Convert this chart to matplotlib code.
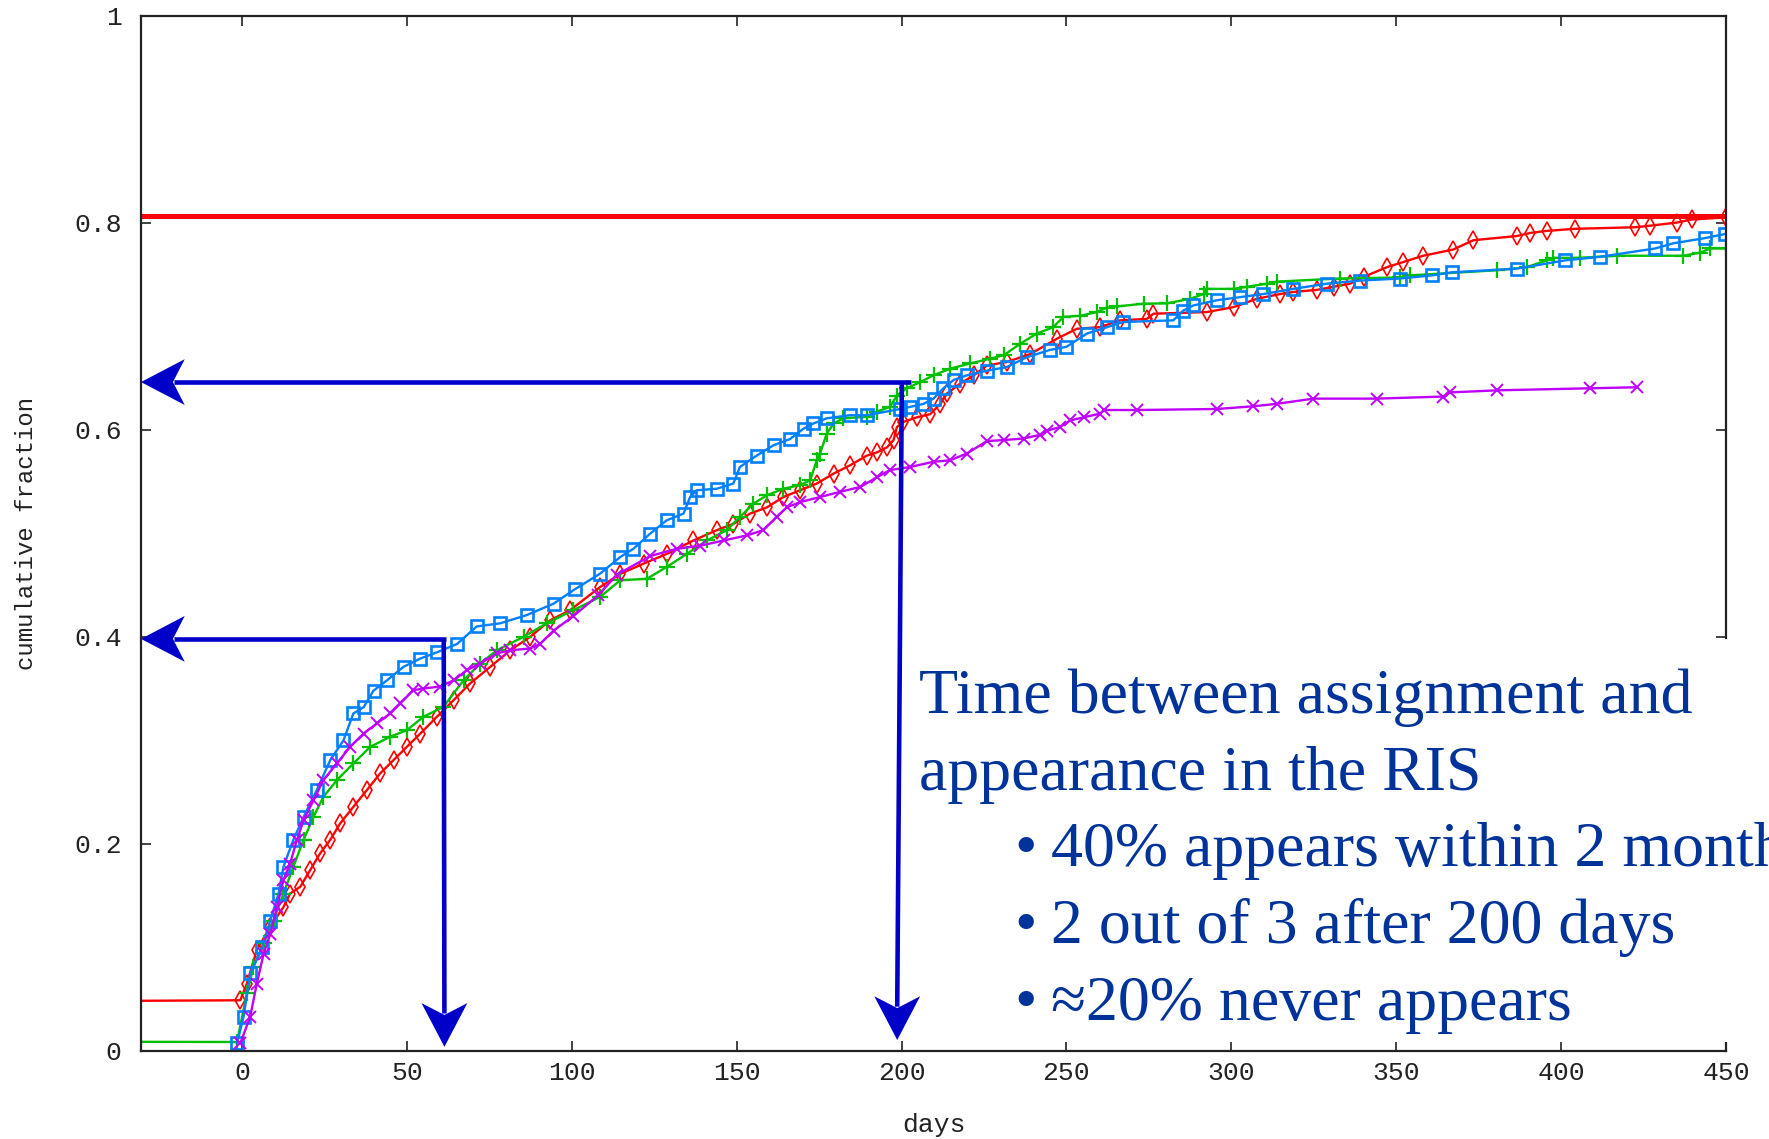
import matplotlib
matplotlib.use('Agg')
import matplotlib.pyplot as plt
from matplotlib.patches import Polygon, Rectangle
from matplotlib import transforms

# cumulative fraction of prefixes seen in the RIS, by days after assignment
red_days = [-60, -0.5, 1.5, 4.5, 8.6, 12.6, 14.6, 17.7, 20.7, 23.7, 26.8, 29.8, 33.8, 37.9,
            41.9, 46.0, 50.0, 54.1, 59.1, 64.2, 69.2, 75.3, 81.4, 87.4, 93.5, 99.5, 108.6,
            114.7, 121.8, 128.8, 136.9, 144.0, 149.0, 154.1, 159.2, 164.2, 169.2, 174.3,
            179.4, 184.4, 189.5, 192.5, 195.6, 197.6, 198.6, 200.6, 204.7, 208.7, 211.8,
            213.8, 217.8, 221.9, 225.9, 231.9, 239.0, 247.2, 253.2, 260.2, 266.3, 274.4,
            276.4, 292.6, 300.7, 307.8, 314.8, 318.8, 325.9, 331.0, 336.0, 340.1, 347.2,
            352.2, 358.2, 367.3, 373.4, 386.5, 390.6, 395.6, 404.2, 422.4, 427.0, 435.0,
            439.6, 450.0]
red_frac = [0.048, 0.049, 0.065, 0.0975, 0.12, 0.139, 0.152, 0.1586, 0.1747, 0.1908, 0.204,
            0.2198, 0.2358, 0.252, 0.268, 0.281, 0.2937, 0.3066, 0.3227, 0.3388, 0.355,
            0.371, 0.387, 0.400, 0.416, 0.4257, 0.448, 0.4607, 0.4707, 0.480, 0.493, 0.503,
            0.509, 0.519, 0.525, 0.535, 0.5415, 0.548, 0.5576, 0.5656, 0.575, 0.578, 0.583,
            0.590, 0.6026, 0.6075, 0.612, 0.615, 0.625, 0.635, 0.6445, 0.6525, 0.662,
            0.6654, 0.673, 0.688, 0.6975, 0.699, 0.7056, 0.707, 0.712, 0.7136, 0.7184,
            0.7265, 0.731, 0.733, 0.735, 0.738, 0.741, 0.7475, 0.757, 0.762, 0.768, 0.774,
            0.783, 0.787, 0.790, 0.792, 0.794, 0.7955, 0.797, 0.800, 0.803, 0.805]

green_days = [-60, -1.5, 1.5, 3.5, 6.6, 9.6, 12.6, 15.6, 18.7, 21.7, 24.7, 28.8, 33.8, 38.9,
              44.9, 50.0, 55.0, 61.1, 67.2, 72.2, 77.3, 85.4, 92.4, 100.5, 108.6, 114.7,
              122.8, 128.8, 134.9, 141.0, 147.0, 151.1, 155.1, 159.2, 164.2, 169.2, 172.3,
              174.3, 175.3, 177.3, 179.4, 182.4, 189.5, 192.5, 196.5, 198.6, 201.6, 205.7,
              209.7, 214.8, 220.9, 226.9, 231.0, 236.0, 241.0, 246.0, 249.1, 254.2, 259.2,
              262.3, 265.3, 273.4, 280.5, 287.6, 291.6, 292.6, 300.7, 304.7, 310.8, 313.8,
              333.0, 351.2, 354.2, 380.5, 389.6, 395.6, 397.6, 405.7, 416.9, 437.1, 442.2,
              445.2, 450.0]
green_frac = [0.009, 0.0087, 0.0557, 0.081, 0.104, 0.126, 0.152, 0.178, 0.204, 0.226, 0.2455,
              0.2616, 0.2777, 0.2937, 0.3034, 0.3098, 0.3227, 0.3323, 0.358, 0.374, 0.387,
              0.400, 0.413, 0.4257, 0.4385, 0.4546, 0.456, 0.4675, 0.480, 0.493, 0.503, 0.516,
              0.5286, 0.5367, 0.543, 0.5465, 0.551, 0.5705, 0.577, 0.596, 0.606, 0.611,
              0.6125, 0.6175, 0.622, 0.633, 0.640, 0.646, 0.6525, 0.659, 0.664, 0.6686,
              0.672, 0.683, 0.6928, 0.699, 0.709, 0.710, 0.7136, 0.718, 0.719, 0.7217, 0.722,
              0.7265, 0.731, 0.736, 0.736, 0.738, 0.741, 0.743, 0.746, 0.747, 0.749, 0.754,
              0.757, 0.7635, 0.766, 0.766, 0.768, 0.768, 0.771, 0.775, 0.775]

blue_days = [-1.5, 0.5, 2.5, 6.1, 8.6, 11.1, 12.6, 15.6, 18.7, 22.7, 26.8, 30.8, 33.8, 36.9,
             39.9, 44.0, 49.0, 54.1, 59.1, 65.2, 71.2, 78.3, 86.4, 94.5, 101.0, 108.6, 114.7,
             118.7, 123.8, 128.8, 133.9, 135.9, 137.9, 144.0, 149.0, 151.0, 156.1, 161.2,
             166.2, 170.3, 173.3, 177.3, 184.4, 189.5, 199.6, 202.6, 206.7, 209.7, 212.7,
             215.8, 219.8, 225.9, 231.9, 238.0, 245.0, 250.0, 256.2, 262.3, 267.3, 282.4,
             285.4, 288.5, 295.6, 302.6, 309.7, 318.8, 328.9, 339.0, 351.2, 360.8, 366.9,
             386.5, 401.2, 411.8, 428.5, 434.0, 443.6, 449.7]
blue_frac = [0.0074, 0.033, 0.075, 0.10, 0.126, 0.152, 0.178, 0.204, 0.226, 0.252, 0.281,
             0.300, 0.326, 0.332, 0.348, 0.358, 0.371, 0.379, 0.385, 0.393, 0.410, 0.413,
             0.421, 0.432, 0.446, 0.461, 0.477, 0.485, 0.4997, 0.5125, 0.519, 0.535, 0.5415,
             0.543, 0.548, 0.564, 0.575, 0.585, 0.591, 0.601, 0.606, 0.611, 0.614, 0.614,
             0.620, 0.622, 0.625, 0.630, 0.640, 0.648, 0.6525, 0.657, 0.6605, 0.670, 0.677,
             0.680, 0.6928, 0.699, 0.704, 0.7056, 0.715, 0.720, 0.725, 0.728, 0.731, 0.736,
             0.741, 0.744, 0.746, 0.749, 0.752, 0.7555, 0.7635, 0.767, 0.775, 0.780, 0.785,
             0.789]

magenta_days = [-0.5, 2.5, 4.5, 6.6, 8.6, 10.6, 12.6, 14.6, 16.7, 18.7, 21.7, 24.7, 28.8,
                32.8, 36.9, 40.9, 45.0, 48.0, 52.0, 55.0, 60.1, 64.2, 68.2, 72.2, 77.3, 81.4,
                87.4, 90.4, 94.5, 100.5, 108.0, 113.7, 123.8, 131.9, 139.0, 146.1, 153.2,
                158.1, 162.2, 165.2, 169.2, 175.3, 181.4, 187.5, 192.5, 196.5, 202.6, 209.7,
                214.8, 219.8, 225.9, 231.0, 237.0, 242.0, 244.1, 248.1, 251.2, 255.3, 260.2,
                261.4, 271.5, 295.6, 306.7, 313.8, 324.9, 344.1, 364.3, 366.3, 380.5, 408.8,
                423.0]
magenta_frac = [0.0074, 0.033, 0.065, 0.094, 0.113, 0.139, 0.165, 0.181, 0.204, 0.223, 0.242,
                0.2616, 0.2777, 0.2937, 0.3066, 0.3163, 0.326, 0.3356, 0.3485, 0.350, 0.352,
                0.358, 0.3678, 0.374, 0.384, 0.387, 0.3887, 0.393, 0.406, 0.420, 0.440, 0.460,
                0.478, 0.485, 0.488, 0.493, 0.498, 0.503, 0.516, 0.525, 0.530, 0.535, 0.540,
                0.5447, 0.554, 0.561, 0.564, 0.569, 0.5705, 0.577, 0.589, 0.590, 0.5915, 0.595,
                0.599, 0.6026, 0.609, 0.612, 0.6155, 0.619, 0.619, 0.620, 0.6226, 0.625, 0.630,
                0.630, 0.632, 0.636, 0.638, 0.640, 0.641]

# share that ever shows up
upper_bound = 0.806

x_ticks = [0, 50, 100, 150, 200, 250, 300, 350, 400, 450]
y_ticks = [0, 0.2, 0.4, 0.6, 0.8, 1]
y_tick_labels = ['0', '0.2', '0.4', '0.6', '0.8', '1']

# reading guides: (day, fraction) where each guide turns, and where its down arrow ends
guide_days = [61.2, 200.1]
guide_fracs = [0.398, 0.646]
guide_tip_days = [61.4, 198.7]
guide_tip_fracs = [0.004, 0.0106]
guide_overshoot_days = [61.9, 203.0]

heading = ['Time between assignment and', 'appearance in the RIS']
bullets = ['40% appears within 2 months', '2 out of 3 after 200 days', '\u224820% never appears']

mono = 'Liberation Mono'
serif = ['Liberation Serif', 'DejaVu Serif']
guide_blue = '#0000c8'
text_blue = '#003399'

fig = plt.figure(figsize=(17.69, 11.39), dpi=100)
W, H = 1769, 1139
ax = fig.add_axes([141 / W, 1 - 1051 / H, 1585 / W, 1035.5 / H])
ax.set_xlim(-30.6, 450)
ax.set_ylim(0, 1)

ax.axhline(upper_bound, color='#ff0000', lw=3.6, zorder=2)
series = [
    (red_days, red_frac, '#ff0000', 'd', dict(markersize=9, markeredgewidth=1.2, markerfacecolor='none')),
    (green_days, green_frac, '#00c000', '+', dict(markersize=11, markeredgewidth=1.6)),
    (blue_days, blue_frac, '#0080ff', 's', dict(markersize=9, markeredgewidth=1.9, markerfacecolor='none')),
    (magenta_days, magenta_frac, '#c000ff', 'x', dict(markersize=9, markeredgewidth=1.4)),
]
for days, frac, color, marker, style in series:
    ax.plot(days, frac, color=color, lw=1.7, marker=marker, markeredgecolor=color,
            zorder=2, **style)

ax.set_xticks(x_ticks)
ax.set_xticklabels([str(t) for t in x_ticks])
ax.set_yticks(y_ticks)
ax.set_yticklabels(y_tick_labels)
ax.tick_params(direction='in', length=7.2, width=1.2, top=True, right=True,
               labelsize=19, colors='#222222')
ax.tick_params(axis='x', pad=7)
ax.tick_params(axis='y', pad=14)
for lab in ax.get_xticklabels() + ax.get_yticklabels():
    lab.set_family(mono)
for sp in ax.spines.values():
    sp.set_linewidth(1.6)
    sp.set_color('#222222')

ax.set_xlabel('days', family=mono, fontsize=19, color='#222222', va='center')
ax.xaxis.set_label_coords(0.5, -0.0715)
ax.set_ylabel('cumulative fraction', family=mono, fontsize=17.3, color='#222222', va='center')
ax.yaxis.set_label_coords(-0.0725, 0.5)

# white panel behind the notes, hiding the lower right frame
panel = Rectangle((905 / W, 1 - 1042 / H), 1 - 905 / W, (1042 - 639) / H,
                  transform=fig.transFigure, facecolor='white', edgecolor='none',
                  zorder=3, clip_on=False)
ax.add_patch(panel)

fig.canvas.draw()
to_px = ax.transData
to_data = ax.transData.inverted()
px = fig.dpi / 72.0


def head(x, y, direction):
    # notched arrow head, tip at (x, y) in data units, size in points
    if direction == 'down':
        verts = [(0, 0), (-16.5, 31.5), (0, 23), (16.5, 31.5)]
    else:
        verts = [(0, 0), (31.5, -16.5), (23, 0), (31.5, 16.5)]
    tr = transforms.Affine2D().scale(px) + transforms.ScaledTranslation(x, y, ax.transData)
    ax.add_patch(Polygon(verts, closed=True, transform=tr, facecolor=guide_blue,
                         edgecolor='none', zorder=4, clip_on=False))


left = ax.get_xlim()[0]
for d, f, td, tf, od in zip(guide_days, guide_fracs, guide_tip_days, guide_tip_fracs,
                            guide_overshoot_days):
    # shafts stop inside the head so the tip stays sharp
    tx, ty = to_px.transform((td, tf))
    _, stop_f = to_data.transform((tx, ty + 24 * px))
    ax.plot([d, td], [f, stop_f], color=guide_blue, lw=3.3, solid_capstyle='butt',
            zorder=4, clip_on=False)
    lx, ly = to_px.transform((left, f))
    stop_d, _ = to_data.transform((lx + 24 * px, ly))
    ax.plot([od, stop_d], [f, f], color=guide_blue, lw=3.3, solid_capstyle='butt',
            zorder=4, clip_on=False)
    head(td, tf, 'down')
    head(left, f, 'left')

baselines = [713, 790, 866, 943, 1020]
note_size = 46
for i, line in enumerate(heading):
    fig.text(919 / W, 1 - baselines[i] / H, line, family=serif, fontsize=note_size,
             color=text_blue, va='baseline', ha='left', zorder=5)
for i, line in enumerate(bullets):
    y = 1 - baselines[len(heading) + i] / H
    fig.text(1014 / W, y, '\u2022', family=serif, fontsize=note_size, color=text_blue,
             va='baseline', ha='left', zorder=5)
    fig.text(1051 / W, y, line, family=serif, fontsize=note_size, color=text_blue,
             va='baseline', ha='left', zorder=5)

fig.savefig('out.png', dpi=100)
